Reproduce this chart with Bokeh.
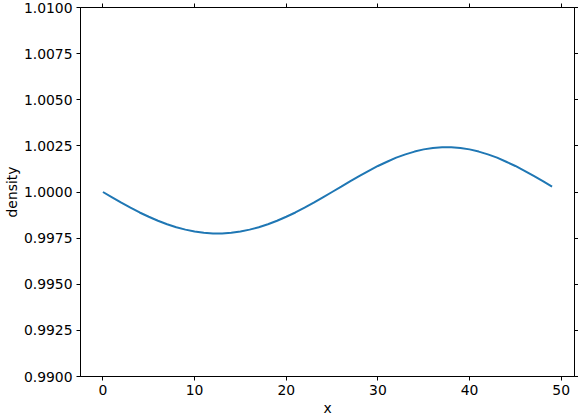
from bokeh.plotting import figure
from bokeh.models import Range1d, LinearAxis, FixedTicker, PrintfTickFormatter, CustomJSTickFormatter
from bokeh.embed import file_html
from bokeh.resources import INLINE

x_vals = list(range(50))
density = [
    1.00000, 0.99971, 0.99942, 0.99915, 0.99889, 0.99866, 0.99844, 0.99825, 0.99809, 0.99796,
    0.99786, 0.99779, 0.99775, 0.99775, 0.99779, 0.99786, 0.99796, 0.99809, 0.99825, 0.99844,
    0.99866, 0.99889, 0.99915, 0.99942, 0.99971, 1.00000, 1.00029, 1.00059, 1.00087, 1.00115,
    1.00141, 1.00164, 1.00186, 1.00204, 1.00219, 1.00231, 1.00239, 1.00242, 1.00242, 1.00239,
    1.00231, 1.00219, 1.00204, 1.00186, 1.00164, 1.00141, 1.00115, 1.00087, 1.00059, 1.00029,
]
x_ticks = [0, 10, 20, 30, 40, 50]
y_ticks = [0.9900, 0.9925, 0.9950, 0.9975, 1.0000, 1.0025, 1.0050, 1.0075, 1.0100]

FONT = "DejaVu Sans"

p = figure(width=578, height=418, output_backend="svg", toolbar_location=None,
           x_range=Range1d(-2.45, 51.45), y_range=Range1d(0.99, 1.01),
           x_axis_label="x", y_axis_label="density",
           min_border_left=0, min_border_right=0, min_border_top=7, min_border_bottom=4)

p.line(x_vals, density, line_color="#1f77b4", line_width=2)

p.xgrid.visible = False
p.ygrid.visible = False
p.outline_line_color = "black"
p.outline_line_width = 1
p.background_fill_color = "white"
p.border_fill_color = "white"

def style(ax, ticks):
    ax.ticker = FixedTicker(ticks=ticks)
    ax.minor_tick_line_color = None
    ax.major_tick_in = 0
    ax.major_tick_out = 4
    ax.major_tick_line_color = "black"
    ax.axis_line_color = "black"
    ax.major_label_text_font = FONT
    ax.major_label_text_font_size = "13.9px"
    ax.major_label_text_color = "black"
    ax.major_label_standoff = 4
    ax.axis_label_text_font = FONT
    ax.axis_label_text_font_size = "13.9px"
    ax.axis_label_text_font_style = "normal"
    ax.axis_label_text_color = "black"
    ax.axis_label_standoff = 2

style(p.xaxis[0], x_ticks)
style(p.yaxis[0], y_ticks)
p.yaxis[0].formatter = PrintfTickFormatter(format="%.4f")
p.yaxis[0].axis_label_standoff = 1

top = LinearAxis()
right = LinearAxis()
style(top, x_ticks)
style(right, y_ticks)
for ax in (top, right):
    ax.formatter = CustomJSTickFormatter(code="return ''")
    ax.major_label_standoff = 0
p.add_layout(top, "above")
p.add_layout(right, "right")

open("out.html", "w").write(file_html(p, INLINE))
